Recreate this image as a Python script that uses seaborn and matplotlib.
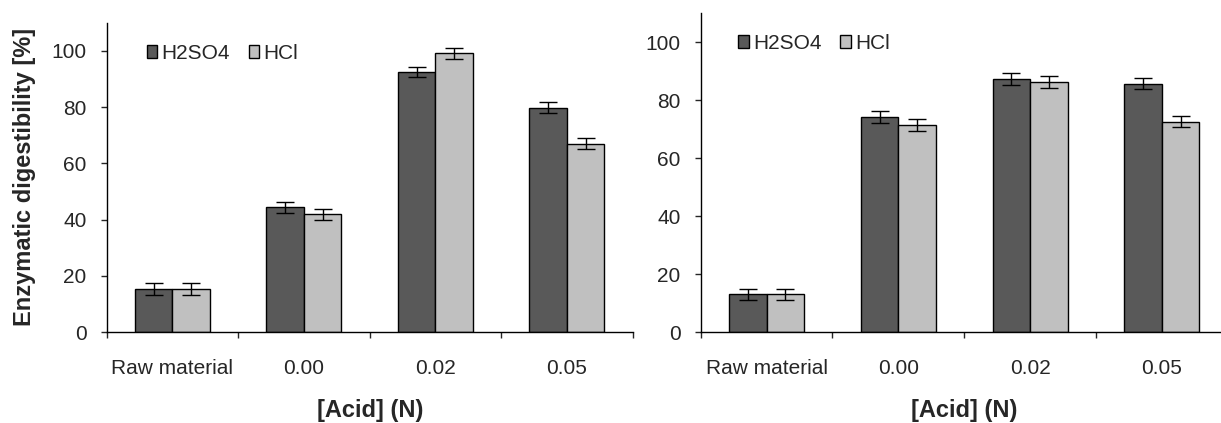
import numpy as np
import pandas as pd
import seaborn as sns
import matplotlib.pyplot as plt
from matplotlib.patches import Patch

# data
categories = ["Raw material", "0.00", "0.02", "0.05"]
acids = ["H2SO4", "HCl"]

left_h2so4 = [15.3, 44.4, 92.5, 79.8]
left_hcl = [15.3, 41.9, 99.1, 67.0]
left_h2so4_err = [2.0, 2.0, 1.8, 2.0]
left_hcl_err = [2.0, 2.0, 2.0, 2.0]

right_h2so4 = [13.0, 74.3, 87.4, 85.7]
right_hcl = [13.0, 71.4, 86.3, 72.6]
right_h2so4_err = [2.0, 2.0, 2.0, 2.0]
right_hcl_err = [2.0, 2.0, 2.0, 2.0]

yticks = [0, 20, 40, 60, 80, 100]
colors = {"H2SO4": "#595959", "HCl": "#c0c0c0"}

sns.set_style("white")
plt.rcParams['font.family'] = ['Liberation Sans', 'DejaVu Sans']


def make_df(h2so4, hcl):
    return pd.DataFrame({
        "Acid": np.repeat(acids, len(categories)),
        "Conc": categories * 2,
        "Value": h2so4 + hcl,
    })


def draw_panel(ax, h2so4, hcl, errs, ylabel, leg_xy):
    df = make_df(h2so4, hcl)
    sns.barplot(data=df, x="Conc", y="Value", hue="Acid", order=categories,
                hue_order=acids, palette=colors, width=0.57, gap=0,
                edgecolor="black", linewidth=1.0, errorbar=None,
                legend=False, ax=ax, zorder=2)
    # error bars at the bar centres
    for cont, err in zip(ax.containers, errs):
        xs = [b.get_x() + b.get_width() / 2 for b in cont]
        ys = [b.get_height() for b in cont]
        ax.errorbar(xs, ys, yerr=err, fmt="none", ecolor="black",
                    elinewidth=1.0, capsize=6.5, capthick=1.0, zorder=3)

    ax.set_xlim(-0.5, 3.5)
    ax.set_ylim(0, 110)
    ax.set_yticks(yticks)
    ax.set_xticks(range(len(categories)))
    ax.set_xticklabels(categories)
    ax.set_xticks(np.arange(-0.5, 4, 1), minor=True)
    ax.tick_params(axis="x", which="major", length=0, pad=19.5, labelsize=15)
    ax.tick_params(axis="x", which="minor", length=4.5, width=1.0,
                   direction="out", bottom=True)
    ax.tick_params(axis="y", length=4.5, width=1.0, direction="out",
                   left=True, pad=10, labelsize=15)
    sns.despine(ax=ax)
    for s in ["left", "bottom"]:
        ax.spines[s].set_linewidth(1.0)
        ax.spines[s].set_color("black")

    ax.set_xlabel("[Acid] (N)", fontsize=17, fontweight="bold", labelpad=15)
    ax.set_ylabel(ylabel, fontsize=17, fontweight="bold", labelpad=11)

    handles = [Patch(facecolor=colors[a], edgecolor="black", linewidth=1.0,
                     label=a) for a in acids]
    ax.legend(handles=handles, loc="center left", bbox_to_anchor=leg_xy,
              ncol=2, frameon=False, fontsize=15, handlelength=0.5,
              handleheight=0.55, handletextpad=0.2, columnspacing=0.9,
              borderpad=0, borderaxespad=0)


fig = plt.figure(figsize=(12.21, 4.23), dpi=100)
ax1 = fig.add_axes([0.0874, 0.2151, 0.4308, 0.7312])
ax2 = fig.add_axes([0.5739, 0.2151, 0.4316, 0.7535])

draw_panel(ax1, left_h2so4, left_hcl, [left_h2so4_err, left_hcl_err],
           "Enzymatic digestibility [%]", (0.076, 0.901))
draw_panel(ax2, right_h2so4, right_hcl, [right_h2so4_err, right_hcl_err],
           "", (0.0715, 0.906))

fig.savefig("out.png", dpi=100)
